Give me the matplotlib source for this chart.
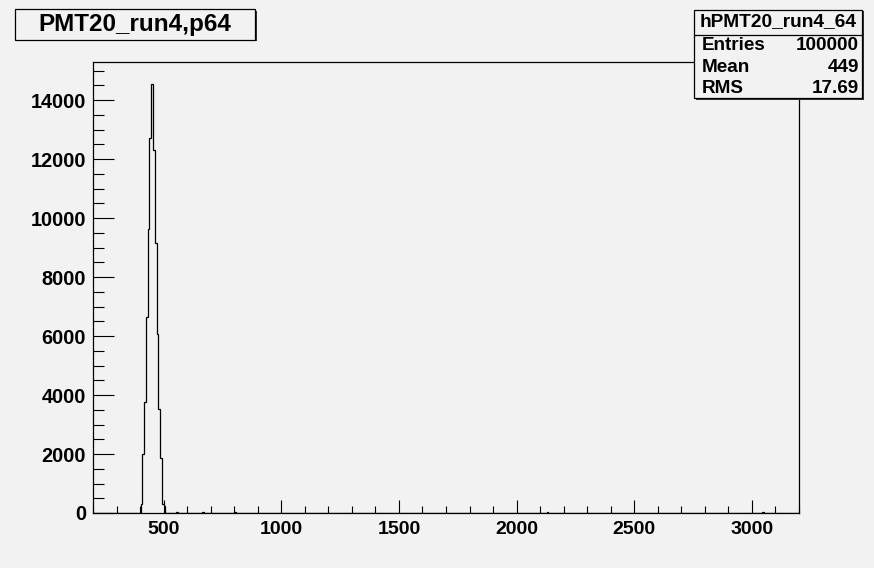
import numpy as np
import matplotlib
matplotlib.use("Agg")
import matplotlib.pyplot as plt
from matplotlib.patches import Rectangle
from matplotlib.ticker import MultipleLocator

# ---------------- data ----------------
title = "PMT20_run4,p64"
stats_name = "hPMT20_run4_64"
stats_labels = ["Entries", "Mean", "RMS"]
stats_values = ["100000", "449", "17.69"]

x_min, x_max, n_bins = 200, 3200, 400
# non-empty bins: lower bin edge -> count
bin_lows = [402.5, 410, 417.5, 425, 432.5, 440, 447.5, 455, 462.5, 470,
            477.5, 485, 492.5, 500, 552.5, 665, 800, 2127.5, 3042.5]
bin_counts = [316, 2010, 3760, 6637, 9620, 12700, 14550, 12316, 9140, 6075,
              3535, 1876, 316, 250, 25, 25, 25, 30, 25]
y_max = 15280

x_ticks = [500, 1000, 1500, 2000, 2500, 3000]
y_ticks = [0, 2000, 4000, 6000, 8000, 10000, 12000, 14000]

# ---------------- figure ----------------
W, H = 874, 568
bg = "#f2f2f2"
fig = plt.figure(figsize=(W / 100, H / 100), dpi=100, facecolor=bg)
font = ["Liberation Sans", "DejaVu Sans"]

def fx(px):
    return px / W

def fy(py):
    return 1 - py / H

L, R, T, B = 93, 799, 62.3, 513
ax = fig.add_axes([fx(L), fy(B), fx(R) - fx(L), fy(T) - fy(B)])
ax.set_facecolor(bg)

edges = x_min + (x_max - x_min) / n_bins * np.arange(n_bins + 1)
counts = np.zeros(n_bins)
for lo, c in zip(bin_lows, bin_counts):
    idx = int(round((lo - x_min) / ((x_max - x_min) / n_bins)))
    counts[idx] = c
ax.stairs(counts, edges, color="black", lw=0.9)

ax.set_xlim(x_min, x_max)
ax.set_ylim(0, y_max)
ax.set_xticks(x_ticks)
ax.set_yticks(y_ticks)
ax.xaxis.set_minor_locator(MultipleLocator(100))
ax.yaxis.set_minor_locator(MultipleLocator(500))
ax.tick_params(axis="x", which="major", direction="in", length=9.4, width=0.8,
               pad=6, labelsize=14, top=False)
ax.tick_params(axis="x", which="minor", direction="in", length=5, width=0.8, top=False)
ax.tick_params(axis="y", which="major", direction="in", length=15, width=0.8,
               pad=5, labelsize=14.3, right=False)
ax.tick_params(axis="y", which="minor", direction="in", length=7.7, width=0.8, right=False)
for lab in ax.get_xticklabels() + ax.get_yticklabels():
    lab.set_fontfamily(font)
    lab.set_fontweight("bold")
for s in ax.spines.values():
    s.set_linewidth(0.9)
    s.set_color("black")

def box(x0, y0, x1, y1, shadow=True):
    if shadow:
        fig.add_artist(Rectangle((fx(x0 + 1.5), fy(y1 + 1.5)), fx(x1 - x0), fy(y0) - fy(y1),
                                 transform=fig.transFigure, facecolor="#333333",
                                 edgecolor="none", zorder=9))
    fig.add_artist(Rectangle((fx(x0), fy(y1)), fx(x1 - x0), fy(y0) - fy(y1),
                             transform=fig.transFigure, facecolor=bg,
                             edgecolor="black", lw=0.9, zorder=10))

# title box
box(15, 9, 255, 39.5)
fig.text(fx(135), fy(25), title, ha="center", va="center", fontsize=17.5,
         fontweight="bold", family=font, zorder=11)

# stats box
sx0, sy0, sx1, sy1 = 694, 10, 862, 98
box(sx0, sy0, sx1, sy1)
fig.add_artist(plt.Line2D([fx(sx0), fx(sx1)], [fy(34.5), fy(34.5)],
                          transform=fig.transFigure, color="black", lw=0.9, zorder=11))
fig.text(fx((sx0 + sx1) / 2 + 0.5), fy(22), stats_name, ha="center", va="center",
         fontsize=13.8, fontweight="bold", family=font, zorder=11)
row_y = [46, 67.5, 88.5]
for lab, val, yy in zip(stats_labels, stats_values, row_y):
    fig.text(fx(702), fy(yy), lab, ha="left", va="center", fontsize=13.6,
             fontweight="bold", family=font, zorder=11)
    fig.text(fx(859), fy(yy), val, ha="right", va="center", fontsize=13.6,
             fontweight="bold", family=font, zorder=11)

fig.savefig("out.png", dpi=100, facecolor=bg)
